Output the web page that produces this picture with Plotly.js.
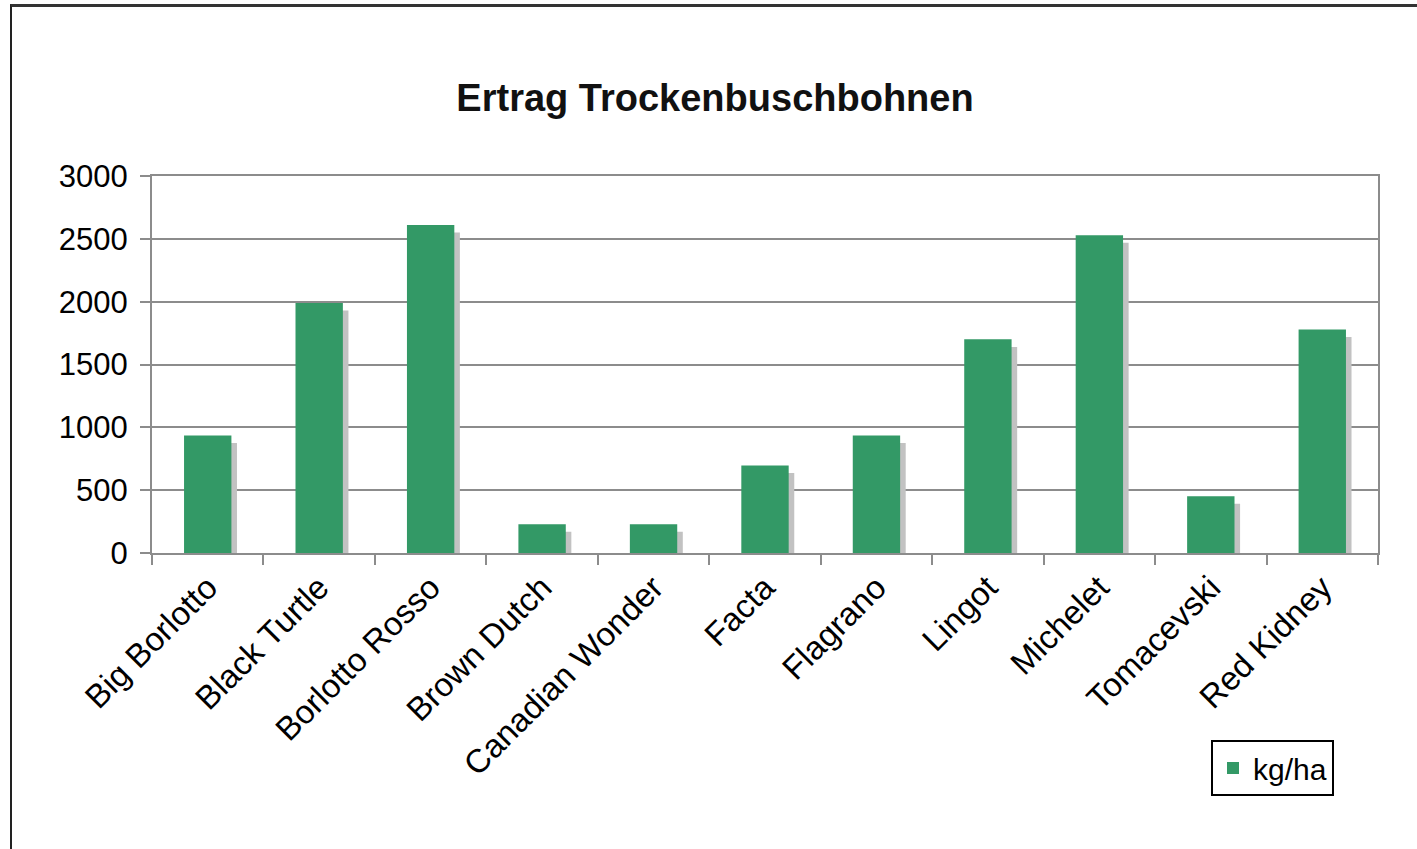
<!DOCTYPE html>
<html>
<head>
<meta charset="utf-8">
<script src="https://cdn.plot.ly/plotly-3.0.1.min.js"></script>
<style>
  html, body { margin: 0; padding: 0; background: #fff; }
  #wrap { position: relative; width: 1417px; height: 849px; overflow: hidden; }
  #chart { position: absolute; left: 0; top: 0; width: 1417px; height: 849px; }
  #frame { position: absolute; left: 10px; top: 4px; width: 1500px; height: 900px;
           border-left: 2px solid #222; border-top: 3px solid #333; pointer-events: none; }
</style>
</head>
<body>
<div id="wrap">
  <div id="chart"></div>
  <div id="frame"></div>
</div>
<script>
// ---- data ----
const categories = ["Big Borlotto", "Black Turtle", "Borlotto Rosso", "Brown Dutch",
  "Canadian Wonder", "Facta", "Flagrano", "Lingot", "Michelet", "Tomacevski", "Red Kidney"];
const yieldKgHa = [935, 1990, 2610, 229, 229, 696, 935, 1700, 2528, 451, 1779];
const seriesName = "kg/ha";
const titleText = "Ertrag Trockenbuschbohnen";
const yTickVals = [0, 500, 1000, 1500, 2000, 2500, 3000];

// ---- styling ----
const green = "#339966";
const barWidth = 0.425;
const shadowShiftX = 0.05;       // fraction of a category
const shadowDrop = 60;           // in data units (~8 px)

const shadow = {
  type: "bar",
  x: categories,
  y: yieldKgHa.map(v => Math.max(v - shadowDrop, 0)),
  width: barWidth,
  offset: -barWidth / 2 + shadowShiftX,
  marker: { color: "#c2c2c2" },
  showlegend: false,
  hoverinfo: "skip"
};

const bars = {
  type: "bar",
  name: seriesName,
  x: categories,
  y: yieldKgHa,
  width: barWidth,
  offset: -barWidth / 2,
  marker: { color: green, line: { width: 0 } },
  showlegend: true
};

const font = "Liberation Sans, Arial, Helvetica, sans-serif";

const layout = {
  width: 1417,
  height: 849,
  paper_bgcolor: "#ffffff",
  plot_bgcolor: "#ffffff",
  barmode: "overlay",
  margin: { l: 152, r: 39, t: 176, b: 296, pad: 0 },
  font: { family: font, color: "#000", size: 31 },
  title: {
    text: "<b>" + titleText + "</b>",
    font: { family: font, size: 38, color: "#111" },
    xref: "container", x: 0.5046, xanchor: "center",
    yref: "container", y: 1 - 98 / 849, yanchor: "middle"
  },
  xaxis: {
    type: "category",
    showgrid: false,
    showline: true,
    linecolor: "#8c8c8c",
    linewidth: 2,
    mirror: true,
    ticks: "outside",
    tickson: "boundaries",
    ticklen: 10,
    tickwidth: 2,
    tickcolor: "#8c8c8c",
    tickangle: -45,
    tickfont: { family: font, size: 33, color: "#000" },
    fixedrange: true
  },
  yaxis: {
    range: [0, 3000],
    tickvals: yTickVals,
    showgrid: true,
    gridcolor: "#8c8c8c",
    gridwidth: 2,
    zeroline: false,
    showline: true,
    linecolor: "#8c8c8c",
    linewidth: 2,
    mirror: true,
    ticks: "outside",
    ticklen: 10,
    tickwidth: 2,
    tickcolor: "#8c8c8c",
    ticklabelstandoff: 6,
    tickfont: { family: font, size: 31, color: "#000" },
    fixedrange: true
  },
  legend: {
    x: (1211 - 152) / 1226,
    xanchor: "left",
    y: (553 - 740) / 377,
    yanchor: "top",
    bgcolor: "#ffffff",
    bordercolor: "#000",
    borderwidth: 2,
    font: { family: font, size: 30, color: "#000" },
    itemwidth: 30,
    tracegroupgap: 0
  },
  showlegend: true
};

Plotly.newPlot("chart", [shadow, bars], layout, { displayModeBar: false, staticPlot: true });
</script>
</body>
</html>
